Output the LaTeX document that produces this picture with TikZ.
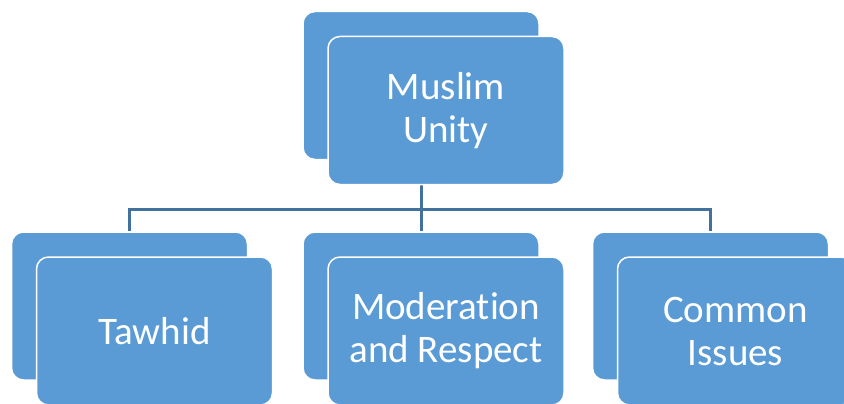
\documentclass[tikz,border=0pt]{standalone}
\usepackage{fontspec}
\setmainfont[Ligatures=NoCommon]{Carlito}
\usetikzlibrary{backgrounds}
\definecolor{unityblue}{HTML}{5B9BD5}
\definecolor{unityline}{HTML}{41719C}
\tikzset{
  card/.style={fill=unityblue, draw=white, line width=1.5pt, rounded corners=12pt,
    minimum width=236pt, minimum height=148pt, inner sep=0pt, align=center,
    text=white, font=\fontsize{39}{43}\selectfont},
  link/.style={draw=unityline, line width=3pt}
}
\begin{document}
\begin{tikzpicture}[x=1pt,y=-1pt]
	\useasboundingbox (0,0) rectangle (844,404);
	\clip (0,0) rectangle (844,404);
	% top card
	\node[card] (unityback) at (421,85.5) {};
	\node[card] (unity) at (446,110.5) {Muslim\\Unity};
	% three cards below
	\foreach \name/\x/\txt in {tawhid/129.5/Tawhid, moderation/421/Moderation\\and Respect, issues/710.5/Common\\Issues}
	  {
	      \node[card] (\name back) at (\x,306) {};
	      \node[card] (\name) at (\x+25,331) {\txt};
	  }
	\begin{pgfonlayer}{background}
	  \draw[link] (unityback.south) -- (unityback.south |- 0,209) coordinate (bar);
	  \foreach \name in {tawhid,moderation,issues}
	      \draw[link] (bar) -| (\name back.north);
	\end{pgfonlayer}
\end{tikzpicture}
\end{document}
